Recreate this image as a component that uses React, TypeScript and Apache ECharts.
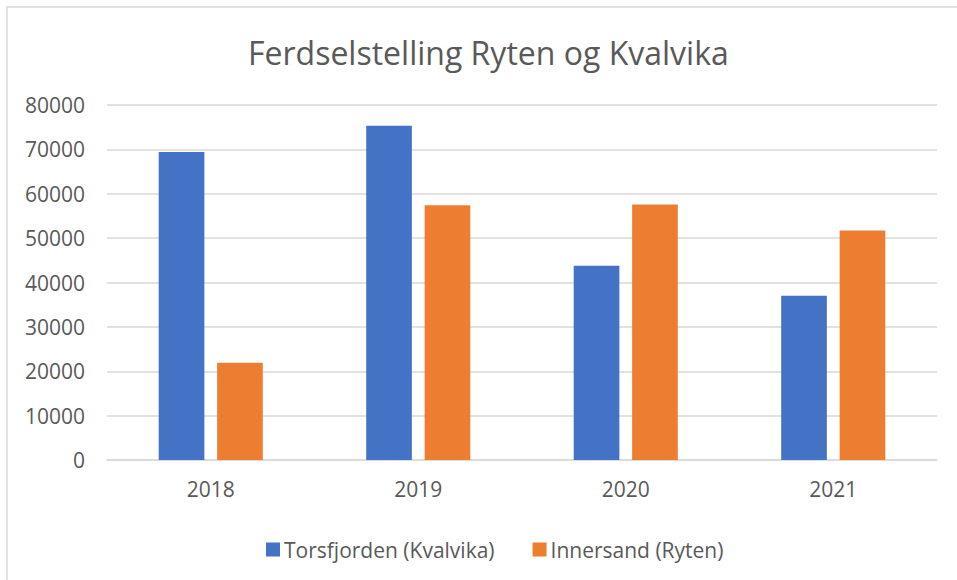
import React, { useEffect, useRef } from "react";
import * as echarts from "echarts";

const categories = ["2018", "2019", "2020", "2021"];
const torsfjorden = [69400, 75300, 43800, 37000];
const innersand = [21900, 57400, 57600, 51700];
const seriesNames = ["Torsfjorden (Kvalvika)", "Innersand (Ryten)"];
const titleText = "Ferdselstelling Ryten og Kvalvika";

const FONT = "'Open Sans', 'Noto Sans', sans-serif";
const TEXT = "#595959";
const GRID = "#D9D9D9";

export default function App() {
  const ref = useRef<HTMLDivElement>(null);
  useEffect(() => {
    if (!ref.current) return;
    const chart = echarts.init(ref.current, undefined, { renderer: "svg" });
    chart.setOption({
      animation: false,
      backgroundColor: "#ffffff",
      textStyle: { fontFamily: FONT },
      title: {
        text: titleText,
        left: 243,
        top: 31,
        textStyle: { fontFamily: FONT, fontSize: 32, fontWeight: "normal", color: TEXT },
      },
      graphic: [
        {
          type: "rect",
          shape: { x: 7, y: 7, width: 1000, height: 1000 },
          style: { fill: "none", stroke: GRID, lineWidth: 1.5 },
          silent: true,
        },
      ],
      grid: { left: 107, right: 20, top: 105, bottom: 120 },
      legend: {
        data: seriesNames,
        left: 261,
        top: 534,
        itemWidth: 14,
        itemHeight: 14,
        itemGap: 38,
        icon: "rect",
        textStyle: { fontFamily: FONT, fontSize: 21, color: TEXT, padding: [0, 0, 0, -1] },
      },
      xAxis: {
        type: "category",
        data: categories,
        axisLine: { lineStyle: { color: GRID, width: 1.5 } },
        axisTick: { show: false },
        axisLabel: { fontFamily: FONT, fontSize: 21, color: TEXT, margin: 18 },
      },
      yAxis: {
        type: "value",
        min: 0,
        max: 80000,
        interval: 10000,
        axisLine: { show: false },
        axisTick: { show: false },
        splitLine: { lineStyle: { color: GRID, width: 1.5 } },
        axisLabel: {
          fontFamily: FONT,
          fontSize: 21,
          color: TEXT,
          margin: 22,
          formatter: (v: number) => String(v),
        },
      },
      series: [
        {
          name: seriesNames[0],
          type: "bar",
          data: torsfjorden,
          barWidth: "22%",
          barGap: "28%",
          itemStyle: { color: "#4472C4" },
        },
        {
          name: seriesNames[1],
          type: "bar",
          data: innersand,
          barWidth: "22%",
          itemStyle: { color: "#ED7D31" },
        },
      ],
    });
    return () => chart.dispose();
  }, []);
  return (
    <div
      ref={ref}
      style={{ position: "absolute", left: 0, top: 0, width: 957, height: 580 }}
    />
  );
}
